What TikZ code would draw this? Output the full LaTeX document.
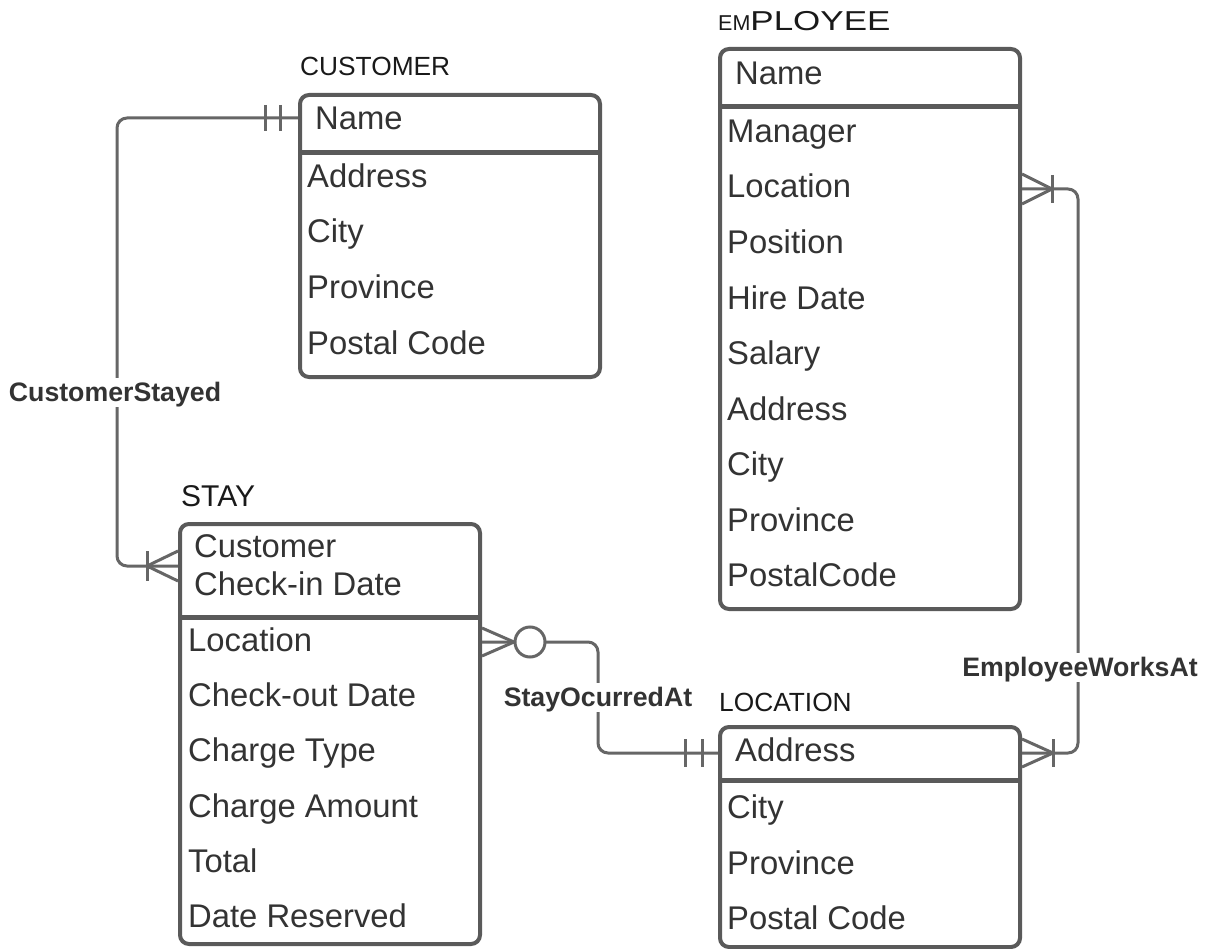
\documentclass[tikz,border=0pt]{standalone}
\usepackage{fontspec}
\usepackage{graphicx}
\setmainfont{Liberation Sans}
\usetikzlibrary{positioning}
\definecolor{boxgray}{HTML}{5A5A5A}
\definecolor{linegray}{HTML}{666666}
\definecolor{textgray}{HTML}{333333}

\tikzset{
  entity/.style={draw=boxgray, line width=4pt, rounded corners=9pt,
    minimum width=300pt, anchor=north west, inner sep=0pt},
  divider/.style={draw=boxgray, line width=5pt},
  title/.style={anchor=west, inner sep=0pt, text height=18pt, text depth=0pt,
    font=\fontsize{26.3}{30}\selectfont, text=black!90},
  attr/.style={anchor=west, inner sep=0pt, text height=23pt, text depth=0pt,
    font=\fontsize{32.8}{38}\selectfont, text=textgray},
  rel/.style={draw=linegray, line width=3pt, rounded corners=10pt},
  tick/.style={draw=linegray, line width=3pt},
  relname/.style={fill=white, inner sep=5pt, text height=19pt, text depth=0pt,
    font=\bfseries\fontsize{26.7}{31}\selectfont, text=textgray},
}

\begin{document}
\begin{tikzpicture}[x=1pt, y=-1pt]
  \useasboundingbox (0,0) rectangle (1206,949);

  % entities
  \node[entity, minimum height=282pt] (cust) at (298,93) {};
  \node[entity, minimum height=560pt] (emp) at (718,47) {};
  \node[entity, minimum height=420pt] (stay) at (178,522) {};
  \node[entity, minimum height=220pt] (loc) at (718,725) {};

  \draw[divider] (298,153) -- (598,153);
  \draw[divider] (718,107) -- (1018,107);
  \draw[divider] (178,617) -- (478,617);
  \draw[divider] (718,780) -- (1018,780);

  % titles
  \node[title] (custtitle) at (300,67) {CUSTOMER};
  \node[title] (emptitle) at (718,22)
    {{\fontsize{21.5}{24}\selectfont EM}\scalebox{1.33}[1.04]{PLOYEE}};
  \node[title, text height=22pt, font=\fontsize{30}{34}\selectfont]
    (staytitle) at (181,495) {STAY};
  \node[title] (loctitle) at (719,702) {LOCATION};

  % keys
  \node[attr] (custkey) at (315,118) {Name};
  \node[attr] (empkey) at (735,73) {Name};
  \node[attr] (staykey1) at (194,546) {Customer};
  \node[attr] (staykey2) at (194,584) {Check-in Date};
  \node[attr] (lockey) at (735,750) {Address};

  % attributes
  \foreach \txt [count=\i] in {Address,City,Province,Postal Code}
    \node[attr] (cust-\i) at (307,{176+55.5*(\i-1)}) {\txt};
  \foreach \txt [count=\i] in {Manager,Location,Position,Hire Date,Salary,
      Address,City,Province,PostalCode}
    \node[attr] (emp-\i) at (727,{131+55.5*(\i-1)}) {\txt};
  \foreach \txt [count=\i] in {Location,Check-out Date,Charge Type,
      Charge Amount,Total,Date Reserved}
    \node[attr] (stay-\i) at (188,{640+55.2*(\i-1)}) {\txt};
  \foreach \txt [count=\i] in {City,Province,Postal Code}
    \node[attr] (loc-\i) at (727,{807+55.5*(\i-1)}) {\txt};

  % relationship points
  \coordinate (c1) at (cust.west |- custkey);
  \coordinate (c2) at (stay.west |- 0,566);
  \coordinate (s1) at (stay.east |- 0,642);
  \coordinate (s2) at (loc.west |- 0,753);
  \coordinate (e1) at (emp.east |- 0,189);
  \coordinate (e2) at (loc.east |- 0,753);
  \coordinate (csbend) at (117,392);
  \coordinate (sobend) at (598,697);
  \coordinate (ewbend) at (1078,667);

  % connectors
  \draw[rel] (c1) -| (csbend) |- (c2);
  \draw[rel] (s1) -| (sobend) |- (s2);
  \draw[rel] (e1) -| (ewbend) |- (e2);

  \node[relname] (custstayed) at (115,392) {CustomerStayed};
  \node[relname] (stayocc) at (598,697) {StayOcurredAt};
  \node[relname] (empworks) at (1080,667) {EmployeeWorksAt};

  % ends: customer (one and only one)
  \draw[tick] (c1) ++(-33,-13) -- ++(0,26);
  \draw[tick] (c1) ++(-18,-13) -- ++(0,26);
  % stay (one or many)
  \draw[tick] (c2) ++(0,-15) -- ++(-31,15) -- ++(31,15);
  \draw[tick] (c2) ++(-31,-15) -- ++(0,30);
  % stay (zero or many)
  \draw[tick] (s1) ++(0,-14) -- ++(32,14) -- ++(-32,14);
  \draw[tick, fill=white] (s1) ++(48,0) circle (15);
  % location (one and only one)
  \draw[tick] (s2) ++(-33,-14) -- ++(0,28);
  \draw[tick] (s2) ++(-16,-14) -- ++(0,28);
  % employee (one or many)
  \draw[tick] (e1) ++(0,-15) -- ++(30,15) -- ++(-30,15);
  \draw[tick] (e1) ++(30,-14) -- ++(0,28);
  % location (one or many)
  \draw[tick] (e2) ++(0,-14) -- ++(31,14) -- ++(-31,14);
  \draw[tick] (e2) ++(31,-14) -- ++(0,28);
\end{tikzpicture}
\end{document}
